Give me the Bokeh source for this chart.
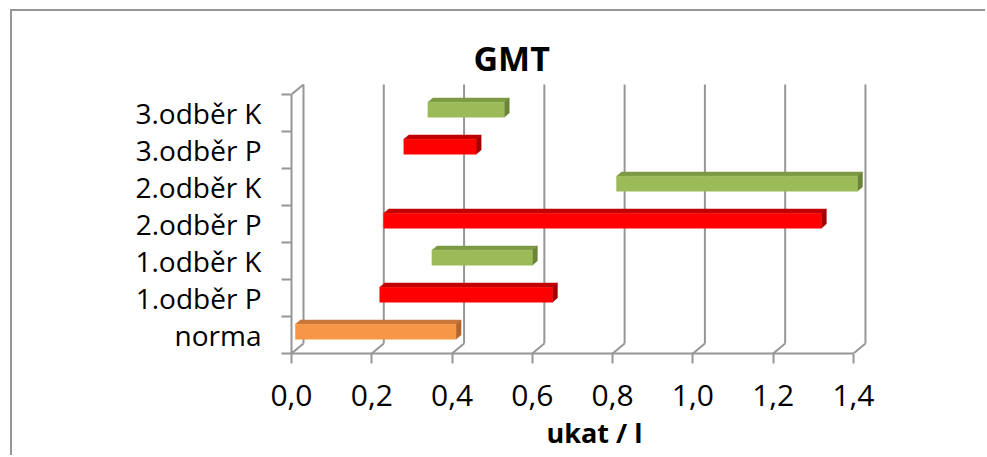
from bokeh.plotting import figure
from bokeh.models import FixedTicker, CustomJSTickFormatter, Range1d, Title
from bokeh.embed import file_html
from bokeh.resources import INLINE

# --- data -------------------------------------------------------------
categories = ["norma", "1.odběr P", "1.odběr K", "2.odběr P", "2.odběr K", "3.odběr P", "3.odběr K"]
range_low = [0.00, 0.21, 0.34, 0.22, 0.80, 0.27, 0.33]
range_high = [0.40, 0.64, 0.59, 1.31, 1.40, 0.45, 0.52]
groups = ["norma", "P", "K", "P", "K", "P", "K"]
x_ticks = [0.0, 0.2, 0.4, 0.6, 0.8, 1.0, 1.2, 1.4]

# --- styling ------------------------------------------------------------
FONT = "Open Sans"
GRID = "#969696"
# (front, top, side) face colours per group
COLORS = {
    "norma": ("#F79646", "#C8773A", "#B0662E"),
    "P": ("#FF0000", "#C00000", "#A40000"),
    "K": ("#9BBB59", "#7C9A44", "#6A8538"),
}

PX_PER_X = 401.4          # pixels per unit on the value axis
PX_PER_CAT = 37.0         # pixels per category band
DX = 12 / PX_PER_X        # depth of the 3-D box along x
DY = 10 / PX_PER_CAT      # depth of the 3-D box along y
F1, F2 = 0.33, 0.75       # front / back depth fraction of the bars
BAR_H = 15 / PX_PER_CAT   # bar thickness
N = len(categories)

FRAME_W = 606
FRAME_H = 270

p = figure(
    width=975, height=446,
    x_range=Range1d(0, FRAME_W / PX_PER_X),
    y_range=Range1d(0, FRAME_H / PX_PER_CAT),
    output_backend="svg", toolbar_location=None,
    min_border_left=279, min_border_right=90,
    min_border_top=72, min_border_bottom=104,
)
p.styles = {
    "margin-left": "10px", "margin-top": "9px",
    "border-left": f"2px solid {GRID}", "border-top": f"2px solid {GRID}",
}
p.outline_line_color = None
p.xgrid.visible = False
p.ygrid.visible = False
p.background_fill_color = "white"
p.border_fill_color = "white"

# --- 3-D box: back wall gridlines, floor diagonals, left wall edge -------
p.segment(x0=[t + DX for t in x_ticks], y0=[DY] * len(x_ticks),
          x1=[t + DX for t in x_ticks], y1=[N + DY] * len(x_ticks),
          line_color=GRID, line_width=2)
p.segment(x0=x_ticks, y0=[0] * len(x_ticks),
          x1=[t + DX for t in x_ticks], y1=[DY] * len(x_ticks),
          line_color=GRID, line_width=2)
p.segment(x0=[0], y0=[N], x1=[DX], y1=[N + DY], line_color=GRID, line_width=2)

# --- bars -----------------------------------------------------------------
ddx = (F2 - F1) * DX
ddy = (F2 - F1) * DY
for i, (lo, hi, g) in enumerate(zip(range_low, range_high, groups)):
    front, top_c, side_c = COLORS[g]
    x_l = lo + F1 * DX
    x_r = hi + F1 * DX
    y_b = i + 0.5 - BAR_H / 2 + F1 * DY
    y_t = i + 0.5 + BAR_H / 2 + F1 * DY
    p.patch([x_l, x_l + ddx, x_r + ddx, x_r], [y_t, y_t + ddy, y_t + ddy, y_t],
            fill_color=top_c, line_color=top_c, line_width=0.5)
    p.patch([x_r, x_r, x_r + ddx, x_r + ddx], [y_b, y_t, y_t + ddy, y_b + ddy],
            fill_color=side_c, line_color=side_c, line_width=0.5)
    p.quad(left=[x_l], right=[x_r], bottom=[y_b], top=[y_t],
           fill_color=front, line_color=front, line_width=0.5)

# --- value axis -------------------------------------------------------------
xa = p.xaxis[0]
xa.ticker = FixedTicker(ticks=x_ticks)
xa.formatter = CustomJSTickFormatter(code="return tick.toFixed(1).replace('.', ',');")
xa.bounds = (0, 1.4)
xa.axis_line_color = GRID
xa.axis_line_width = 2
xa.major_tick_line_color = GRID
xa.major_tick_line_width = 2
xa.major_tick_out = 10
xa.major_tick_in = 0
xa.minor_tick_line_color = None
xa.major_label_text_font = FONT
xa.major_label_text_font_size = "30px"
xa.major_label_text_color = "black"
xa.major_label_standoff = 21
xa.axis_label = "ukat / l"
xa.axis_label_text_font = FONT
xa.axis_label_text_font_style = "bold"
xa.axis_label_text_font_size = "27px"
xa.axis_label_text_color = "black"
xa.axis_label_standoff = 5

# --- category axis ------------------------------------------------------------
ya = p.yaxis[0]
ya.ticker = FixedTicker(ticks=[i + 0.5 for i in range(N)], minor_ticks=list(range(N + 1)))
ya.formatter = CustomJSTickFormatter(args=dict(labels=categories),
                                     code="return labels[Math.floor(tick)];")
ya.bounds = (0, N)
ya.axis_line_color = GRID
ya.axis_line_width = 2
ya.major_tick_line_color = None
ya.major_tick_out = 0
ya.major_tick_in = 0
ya.minor_tick_line_color = GRID
ya.minor_tick_line_width = 2
ya.minor_tick_out = 10
ya.minor_tick_in = 0
ya.major_label_text_font = FONT
ya.major_label_text_font_size = "28px"
ya.major_label_text_color = "black"
ya.major_label_standoff = 20

# --- title ------------------------------------------------------------------
p.add_layout(Title(text="GMT", align="left", offset=182, standoff=6,
                   text_font=FONT, text_font_style="bold", text_font_size="34px",
                   text_color="black"), "above")

open("out.html", "w").write(file_html(p, INLINE))
